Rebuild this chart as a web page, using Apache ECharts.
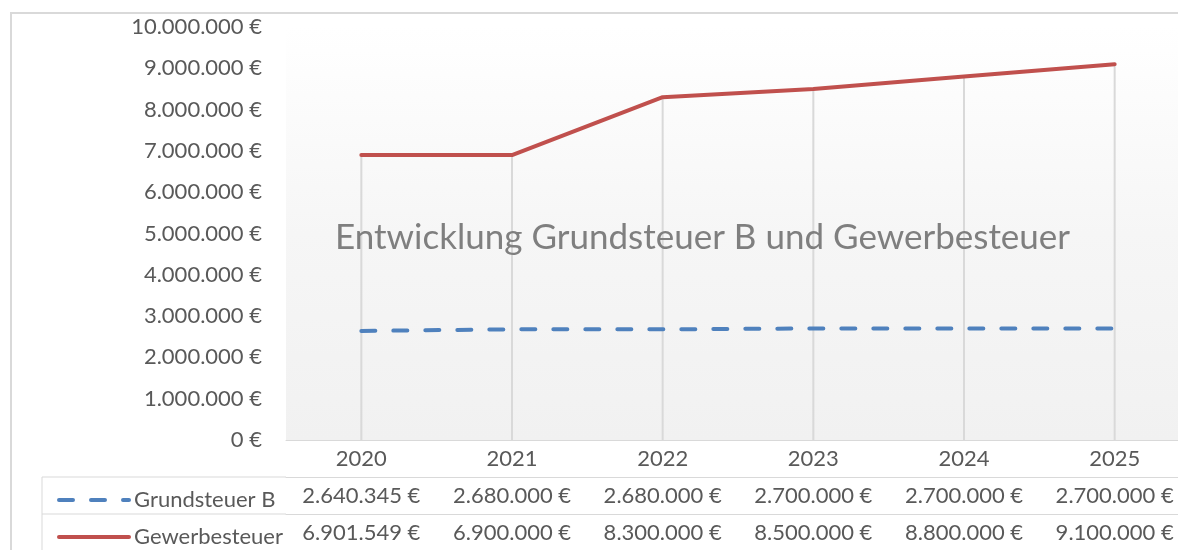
<!DOCTYPE html>
<html>
<head>
<meta charset="utf-8">
<script src="https://cdn.jsdelivr.net/npm/echarts@6/dist/echarts.min.js"></script>
<style>
  html, body { margin: 0; padding: 0; background: #fff; overflow: hidden; }
  #chart { width: 1190px; height: 550px; }
</style>
</head>
<body>
<div id="chart"></div>
<script>
const years = ['2020', '2021', '2022', '2023', '2024', '2025']
const grundsteuer = [2640345, 2680000, 2680000, 2700000, 2700000, 2700000]
const gewerbesteuer = [6901549, 6900000, 8300000, 8500000, 8800000, 9100000]
const yMin = 0
const yMax = 10000000
const yStep = 1000000

const font = 'Lato'
const textColor = '#595959'
const cellLine = '#d9d9d9'

function euro(v) {
  return String(v).replace(/\B(?=(\d{3})+(?!\d))/g, '.') + ' €'
}

// Excel drop lines: from the highest point of each year down to the axis
const dropLines = years.map((y, i) => Math.max(grundsteuer[i], gewerbesteuer[i]))

function tableAxis(data, offset) {
  return {
    type: 'category',
    data: data,
    position: 'bottom',
    offset: offset,
    axisLine: { lineStyle: { color: cellLine, width: 1 } },
    axisTick: { length: 37, lineStyle: { color: cellLine, width: 1 } },
    axisLabel: {
      interval: 0,
      margin: 0,
      lineHeight: 37,
      color: textColor,
      fontFamily: font,
      fontSize: 22
    },
    splitLine: { show: false }
  }
}

function legendRow(name, top) {
  return {
    data: [name],
    left: 52,
    top: top,
    itemWidth: 70,
    itemHeight: 20,
    itemStyle: { opacity: 0 },
    lineStyle: { width: 4, cap: 'round' },
    textStyle: { color: textColor, fontFamily: font, fontSize: 22 }
  }
}

const chart = echarts.init(document.getElementById('chart'))
chart.setOption({
  animation: false,
  title: {
    text: 'Entwicklung Grundsteuer B und Gewerbesteuer',
    left: 330,
    top: 215,
    textStyle: { color: '#7f7f7f', fontFamily: font, fontWeight: 'normal', fontSize: 35 }
  },
  grid: {
    left: 286,
    right: 0,
    top: 27,
    bottom: 110,
    outerBoundsMode: 'none',
    show: true,
    borderWidth: 0,
    backgroundColor: {
      type: 'linear', x: 0, y: 0, x2: 0, y2: 1,
      colorStops: [
        { offset: 0, color: '#ffffff' },
        { offset: 0.5, color: '#f6f6f6' },
        { offset: 1, color: '#f1f1f1' }
      ]
    }
  },
  legend: [
    legendRow('Grundsteuer B', 484),
    legendRow('Gewerbesteuer', 521)
  ],
  xAxis: [
    tableAxis(years, 0),
    tableAxis(grundsteuer.map(euro), 37),
    tableAxis(gewerbesteuer.map(euro), 74)
  ],
  yAxis: {
    type: 'value',
    min: yMin,
    max: yMax,
    interval: yStep,
    axisLine: { show: false },
    axisTick: { show: false },
    splitLine: { show: false },
    axisLabel: {
      margin: 24,
      color: textColor,
      fontFamily: font,
      fontSize: 22,
      formatter: euro
    }
  },
  series: [
    {
      name: 'drop',
      type: 'bar',
      data: dropLines,
      barWidth: 2,
      silent: true,
      z: 1,
      itemStyle: { color: cellLine }
    },
    {
      name: 'Grundsteuer B',
      type: 'line',
      data: grundsteuer,
      symbol: 'none',
      z: 3,
      lineStyle: { color: '#4f81bd', width: 4, type: [14, 18], cap: 'round' },
      itemStyle: { color: '#4f81bd' }
    },
    {
      name: 'Gewerbesteuer',
      type: 'line',
      data: gewerbesteuer,
      symbol: 'none',
      z: 3,
      lineStyle: { color: '#c0504d', width: 4, cap: 'round' },
      itemStyle: { color: '#c0504d' }
    }
  ],
  graphic: [
    {
      type: 'rect',
      silent: true,
      shape: { x: 11, y: 13, width: 1300, height: 700 },
      style: { fill: null, stroke: cellLine, lineWidth: 2 }
    },
    {
      type: 'line',
      silent: true,
      shape: { x1: 42, y1: 477, x2: 286, y2: 477 },
      style: { stroke: cellLine, lineWidth: 1 }
    },
    {
      type: 'line',
      silent: true,
      shape: { x1: 42, y1: 514, x2: 286, y2: 514 },
      style: { stroke: cellLine, lineWidth: 1 }
    },
    {
      type: 'line',
      silent: true,
      shape: { x1: 42, y1: 477, x2: 42, y2: 560 },
      style: { stroke: cellLine, lineWidth: 1 }
    }
  ]
})
</script>
</body>
</html>
